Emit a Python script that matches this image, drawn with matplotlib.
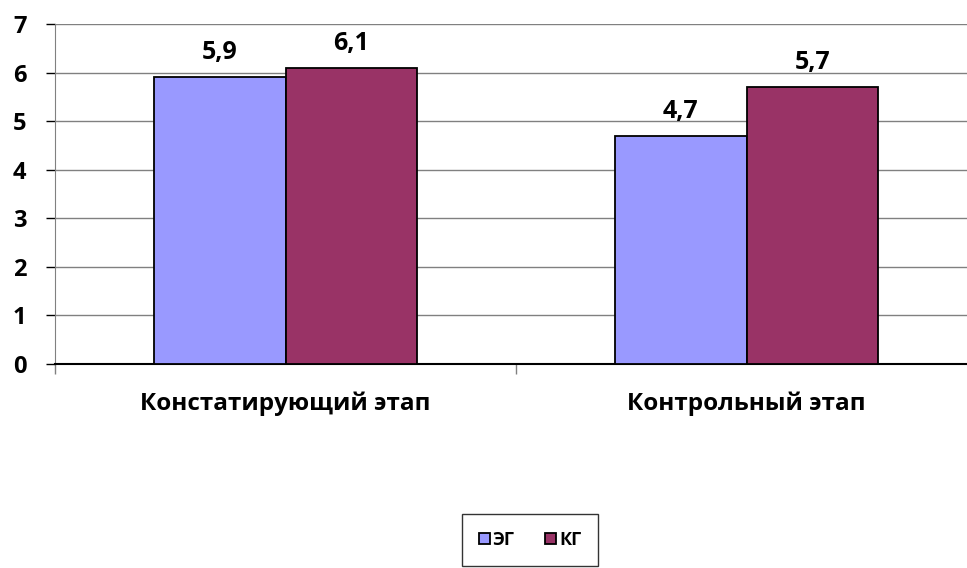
import numpy as np
import matplotlib.pyplot as plt

# Data
categories = ["Констатирующий этап", "Контрольный этап"]
eg_values = [5.9, 4.7]
kg_values = [6.1, 5.7]
series_names = ["ЭГ", "КГ"]
value_labels_eg = ["5,9", "4,7"]
value_labels_kg = ["6,1", "5,7"]

plt.rcParams['font.family'] = ['Open Sans', 'DejaVu Sans']
plt.rcParams['font.weight'] = 'bold'

fig = plt.figure(figsize=(9.67, 5.68), dpi=100)
ax = fig.add_axes([55 / 967, 1 - 364 / 568, 922 / 967, 340 / 568])

x = np.arange(len(categories))
w = 0.286
b1 = ax.bar(x - w / 2, eg_values, w, color="#9999FF", edgecolor="black", linewidth=1.3, label=series_names[0], zorder=3)
b2 = ax.bar(x + w / 2, kg_values, w, color="#993366", edgecolor="black", linewidth=1.3, label=series_names[1], zorder=3)

# value labels above bars
for bars, labels in [(b1, value_labels_eg), (b2, value_labels_kg)]:
    for rect, lab in zip(bars, labels):
        ax.annotate(lab, (rect.get_x() + rect.get_width() / 2, rect.get_height()),
                    xytext=(0, 13), textcoords="offset points",
                    ha="center", va="baseline", fontsize=18, fontweight="bold")

ax.set_xlim(-0.5, 1.5)
ax.set_ylim(0, 7)
ax.set_yticks(range(0, 8))
ax.tick_params(axis="y", labelsize=17, length=6.5, width=1, color="black", pad=14)
ax.yaxis.grid(True, color="#808080", linewidth=1, zorder=0)

# category ticks at the boundaries, labels in the middle
ax.set_xticks([-0.5, 0.5, 1.5])
ax.set_xticklabels([])
ax.set_xticks(x, minor=True)
ax.set_xticklabels(categories, minor=True, fontsize=17.5, fontweight="bold")
ax.tick_params(axis="x", which="major", length=7, width=1, color="#808080")
ax.tick_params(axis="x", which="minor", length=0, pad=20)
for t in ax.get_yticklabels():
    t.set_fontweight("bold")

for s in ["top", "right"]:
    ax.spines[s].set_visible(False)
ax.spines["left"].set_color("#808080")
ax.spines["bottom"].set_color("black")
ax.spines["bottom"].set_linewidth(1.5)

leg = fig.legend(loc="lower left", bbox_to_anchor=(462 / 967, 2 / 568), ncol=2,
                 prop={"size": 13, "weight": "bold"}, frameon=True, fancybox=False,
                 edgecolor="black", handlelength=0.6, handleheight=0.6, handletextpad=0.15,
                 columnspacing=1.7, borderpad=0.95, borderaxespad=0)
leg.get_frame().set_linewidth(1)

fig.savefig("out.png", dpi=100)
